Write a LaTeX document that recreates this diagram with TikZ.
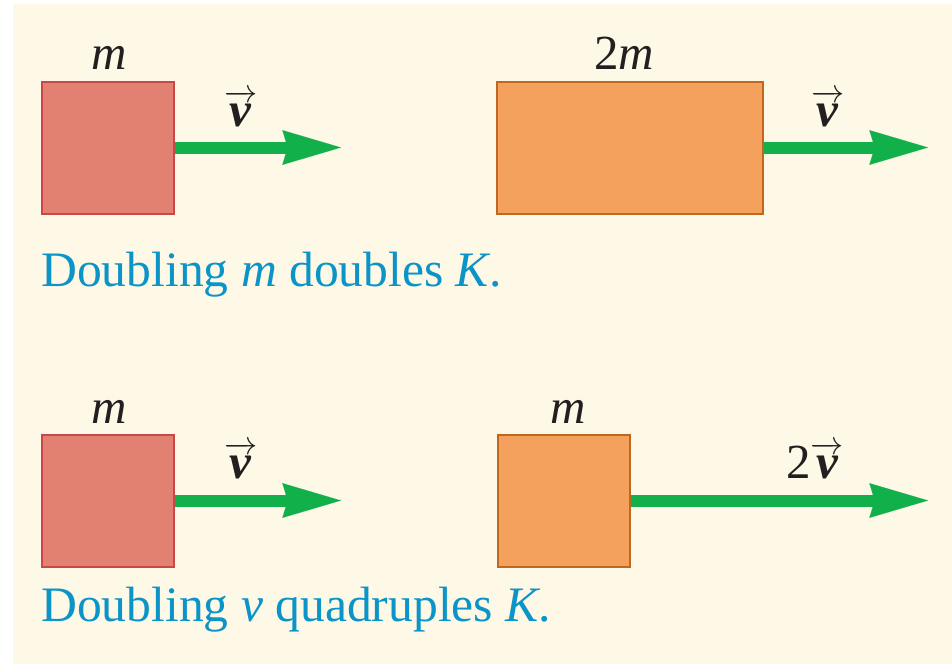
\documentclass[tikz,border=0pt]{standalone}
\usepackage{fontspec}
\setmainfont{Liberation Serif}
\usetikzlibrary{arrows.meta}

\newcommand{\velvec}{$\overrightarrow{\rule{0pt}{19pt}\hbox{\textbf{\textit{v}}}}$}

\begin{document}
\begin{tikzpicture}[x=0.75pt,y=0.75pt,yscale=-1,xscale=1,
  redblock/.style={draw={rgb, 255:red, 201; green, 71; blue, 75}, fill={rgb, 255:red, 226; green, 128; blue, 113}, line width=1.5, inner sep=0pt, minimum width=99pt, minimum height=99pt},
  orangeblock/.style={draw={rgb, 255:red, 192; green, 102; blue, 31}, fill={rgb, 255:red, 244; green, 161; blue, 94}, line width=1.5, inner sep=0pt, minimum height=99pt},
  velarrow/.style={draw={rgb, 255:red, 18; green, 176; blue, 75}, line width=9, -{Stealth[length=44pt, width=26pt, inset=4pt, line width=0.1pt, fill={rgb, 255:red, 18; green, 176; blue, 75}]}},
  lbl/.style={anchor=base, inner sep=0.75pt, font=\fontsize{36.75}{44}\selectfont, text={rgb, 255:red, 35; green, 31; blue, 32}},
  caption/.style={anchor=base west, inner sep=0pt, font=\fontsize{37.2}{44}\selectfont, text={rgb, 255:red, 10; green, 148; blue, 200}}
 ]
 %uncomment if require: \path (0,664); %set diagram left start at 0, and has height of 664
 \useasboundingbox (0,0) rectangle (952,664);

 %Shape: Rectangle (background)
 \fill [color={rgb, 255:red, 254; green, 248; blue, 230 }] (13,4) rectangle (952,664);

 %Shape: Square [m, v]
 \node [redblock] (boxA) at (108,147.5) {};
 %Shape: Rectangle [2m, v]
 \node [orangeblock, minimum width=199.5pt] (boxB) at (630,147.5) {};
 %Shape: Square [m, v]
 \node [redblock] (boxC) at (108,500.5) {};
 %Shape: Square [m, 2v]
 \node [orangeblock, minimum width=99pt] (boxD) at (563.5,500.5) {};

 \coordinate (tipA) at (341,147.5);
 \coordinate (tipB) at (928,147.5);
 \coordinate (tipC) at (341,500.5);
 \coordinate (tipD) at (928,500.5);

 %Straight Lines
 \draw [velarrow] (boxA.east) -- (tipA);
 %Straight Lines
 \draw [velarrow] (boxB.east) -- (tipB);
 %Straight Lines
 \draw [velarrow] (boxC.east) -- (tipC);
 %Straight Lines
 \draw [velarrow] (boxD.east) -- (tipD);

 % Text Node
 \node [lbl] (massA) at (109,69) {\textit{m}};
 % Text Node
 \node [lbl] (massB) at (624,69) {2\textit{m}};
 % Text Node
 \node [lbl] (massC) at (109,423) {\textit{m}};
 % Text Node
 \node [lbl] (massD) at (568,423) {\textit{m}};
 % Text Node
 \node [lbl] (velA) at (241,126) {\velvec};
 % Text Node
 \node [lbl] (velB) at (828,126) {\velvec};
 % Text Node
 \node [lbl] (velC) at (241,478) {\velvec};
 % Text Node
 \node [lbl] (velD) at (815,478) {2\velvec};
 % Text Node
 \node [caption] (capTop) at (41,286) {Doubling \textit{m} doubles \textit{K}.};
 % Text Node
 \node [caption] (capBot) at (41,621) {Doubling \textit{v} quadruples \textit{K}.};

\end{tikzpicture}
\end{document}
